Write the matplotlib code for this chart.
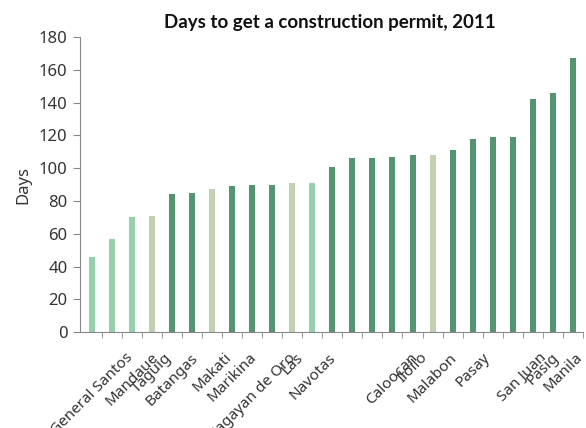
import numpy as np
import matplotlib

matplotlib.use('Agg')
import matplotlib.pyplot as plt
from matplotlib.transforms import ScaledTranslation

# cities, sorted by days (only the labels visible in the source are named)
cities = ['General Santos', '', 'Mandaue', 'Taguig', 'Batangas', '',
          'Makati', 'Marikina', 'Cagayan de Oro', '', 'Las', 'Navotas',
          '', '', '', 'Caloocan', 'Iloilo', 'Malabon', '', 'Pasay', '',
          '', 'San Juan', 'Pasig', 'Manila']
days = [46, 57, 70, 71, 84, 85, 87, 89, 90, 90, 91, 91, 101, 106, 106,
        107, 108, 108, 111, 118, 119, 119, 142, 146, 167]
groups = ['light', 'light', 'light', 'grey', 'dark', 'dark', 'grey', 'dark',
          'dark', 'dark', 'grey', 'light', 'dark', 'dark', 'dark', 'dark',
          'dark', 'grey', 'dark', 'dark', 'dark', 'dark', 'dark', 'dark',
          'dark']
yticks = [0, 20, 40, 60, 80, 100, 120, 140, 160, 180]

palette = {'light': '#95d2ac', 'grey': '#c2d1b2', 'dark': '#559471'}

plt.rcParams['font.family'] = ['Noto Sans', 'DejaVu Sans']

fig = plt.figure(figsize=(5.86, 4.28), dpi=100)
ax = fig.add_axes([0.1365, 0.224, 0.858, 0.6896])

x = np.arange(len(days))
ax.bar(x, days, width=0.3, color=[palette[g] for g in groups])

ax.set_xlim(-0.6, len(days) - 0.5)
ax.set_ylim(0, 180)
ax.set_yticks(yticks)

ax.set_xticks(x)
ax.set_xticklabels(cities, rotation=45, ha='center', va='top',
                   fontsize=11, color='#333333')
ax.set_xticks(np.arange(len(days)) + 0.5, minor=True)
ax.tick_params(axis='x', which='major', length=0, pad=13)
ax.tick_params(axis='x', which='minor', length=4, color='#888888')
ax.tick_params(axis='y', length=5, color='#888888', labelsize=12,
               labelcolor='#333333', pad=4)

# the last labels sit a little to the left so Manila stays inside
for lbl in ax.get_xticklabels()[22:]:
    lbl.set_transform(lbl.get_transform() +
                      ScaledTranslation(-0.1, 0, fig.dpi_scale_trans))

for side in ['top', 'right']:
    ax.spines[side].set_visible(False)
for side in ['left', 'bottom']:
    ax.spines[side].set_color('#888888')

ax.set_ylabel('Days', fontsize=12, color='#333333', labelpad=5)
fig.text(0.562, 0.948, 'Days to get a construction permit, 2011',
         ha='center', va='center', fontsize=13.5, fontweight='bold',
         family=['Lato', 'DejaVu Sans'], color='#111111')

fig.savefig('out.png', dpi=100)
